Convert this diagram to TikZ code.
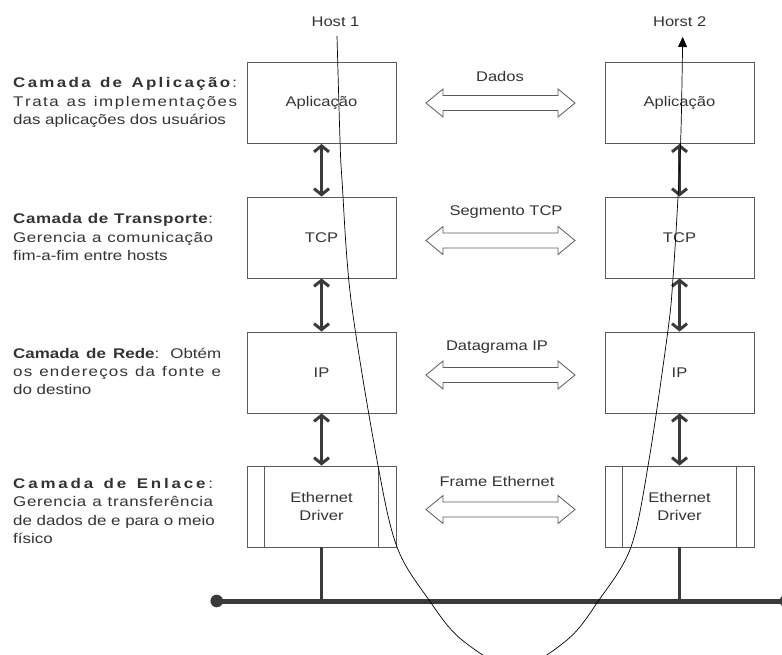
\documentclass[tikz,border=0pt]{standalone}
\usepackage{fontspec}
\setmainfont{Liberation Sans}[FakeStretch=1.18]
\newfontfamily\lfont{Liberation Sans}[FakeStretch=1.21]
\usetikzlibrary{arrows.meta}
\definecolor{txt}{HTML}{333333}
\definecolor{ln}{HTML}{3A3A3A}
\definecolor{bx}{HTML}{5A5A5A}
\newcommand\LSstart{\hskip 0pt plus -1fil\relax}
\newcommand\LS[1]{\LSx#1\relax}
\def\LSx#1{\ifx\relax#1\else\hfil#1\expandafter\LSx\fi}
\tikzset{
  lt/.style={anchor=base west, inner sep=0pt, font=\lfont\fontsize{14}{18}\selectfont, text=txt},
  ct/.style={inner sep=0pt, font=\fontsize{14}{18}\selectfont, text=txt, align=center},
  box/.style={draw=bx, line width=0.9pt, minimum width=149pt, minimum height=81pt, inner sep=0pt,
              font=\fontsize{14}{18}\selectfont, text=txt, align=center},
  varrow/.style={draw=ln, line width=3pt,
     {Straight Barb[length=6pt,width=15pt]}-{Straight Barb[length=6pt,width=15pt]}},
  hollow/.style={draw=bx, line width=0.8pt},
  drop/.style={draw=ln, line width=3pt},
  bus/.style={draw=ln, line width=5pt},
  flow/.style={draw=black, line width=0.7pt, -{Triangle[length=10pt,width=9pt]}}
}
\newcommand\hollowarrow[1]{%
  \draw[hollow, shift={(#1)}] (-74.5,0) -- ++(17,-14) -- ++(0,6.5) -- ++(115,0) -- ++(0,-6.5)
    -- ++(17,14) -- ++(-17,14) -- ++(0,-6.5) -- ++(-115,0) -- ++(0,6.5) -- cycle;}
\begin{document}
\begin{tikzpicture}[x=1pt,y=-1pt]
\useasboundingbox (0,0) rectangle (782,655);

% host labels
\node[ct] (h1) at (335.5,22) {Host 1};
\node[ct] (h2) at (679.7,22) {Horst 2};

% left side boxes
\node[box] (a1) at (321.5,103) {Aplicação};
\node[box] (t1) at (321.5,237.5) {TCP};
\node[box] (i1) at (321.5,372.5) {IP};
\node[box] (e1) at (321.5,506.5) {Ethernet\\Driver};
% right side boxes
\node[box] (a2) at (679.5,103) {Aplicação};
\node[box] (t2) at (679.5,237.5) {TCP};
\node[box] (i2) at (679.5,372.5) {IP};
\node[box] (e2) at (679.5,506.5) {Ethernet\\Driver};

% inner lines of ethernet boxes
\foreach \b in {e1,e2}{
  \draw[bx, line width=0.9pt] ([xshift=18pt]\b.north west) -- ([xshift=18pt]\b.south west);
  \draw[bx, line width=0.9pt] ([xshift=-18pt]\b.north east) -- ([xshift=-18pt]\b.south east);
}

% vertical arrows
\draw[varrow] (a1.south) -- (t1.north);
\draw[varrow] (t1.south) -- (i1.north);
\draw[varrow] (i1.south) -- (e1.north);
\draw[varrow] (a2.south) -- (t2.north);
\draw[varrow] (t2.south) -- (i2.north);
\draw[varrow] (i2.south) -- (e2.north);

% horizontal hollow arrows and labels
\coordinate (d1) at (500.5,103);
\coordinate (d2) at (500.5,240.5);
\coordinate (d3) at (500.5,375);
\coordinate (d4) at (500.5,509.5);
\hollowarrow{d1}
\hollowarrow{d2}
\hollowarrow{d3}
\hollowarrow{d4}
\node[ct] (ld1) at (500,76) {Dados};
\node[ct] (ld2) at (506,212) {Segmento TCP};
\node[ct] (ld3) at (497,347) {Datagrama IP};
\node[ct] (ld4) at (497,481) {Frame Ethernet};

% bus
\coordinate (busL) at (216.7,601);
\coordinate (busR) at (786,601);
\draw[bus] (busL) -- (busR);
\fill[ln] (busL) circle (6.3);
\fill[ln] (busR) circle (6.3);
\draw[drop] (e1.south) -- (e1.south |- busL);
\draw[drop] (e2.south) -- (e2.south |- busL);

% flow curve
\draw[flow] plot[smooth, tension=0.55] coordinates {
  (337,36) (340,140) (342,180) (351,300) (377,460) (397,547) (429,600) (462,640)
  (515,668) (567,640) (599,600) (631,547) (649,460) (668,330) (673,278) (678,197)
  (681,130) (682.7,37)};

% left descriptions
\node[lt] (la1) at (13,88) {\makebox[224pt][s]{\LSstart\textbf{\LS{Camada}\hfil\ \LS{de}\hfil\ \LS{Aplicação}}\LS{:}}};
\node[lt] (la2) at (13,106.5) {\makebox[224pt][s]{\LSstart\LS{Trata}\hfil\ \LS{as}\hfil\ \LS{implementações}}};
\node[lt] (la3) at (13,124.5) {das aplicações dos usuários};

\node[lt] (lt1) at (13,224) {\makebox[200pt][s]{\LSstart\textbf{\LS{Camada}\hfil\ \LS{de}\hfil\ \LS{Transporte}}\LS{:}}};
\node[lt] (lt2) at (13,242.3) {\makebox[200pt][s]{\LSstart\LS{Gerencia}\hfil\ \LS{a}\hfil\ \LS{comunicação}}};
\node[lt] (lt3) at (13,260.3) {fim-a-fim entre hosts};

\node[lt] (lr1) at (13,358.3) {\makebox[208pt][s]{\textbf{Camada de Rede}: Obtém}};
\node[lt] (lr2) at (13,376.7) {\makebox[208pt][s]{\LSstart\LS{os}\hfil\ \LS{endereços}\hfil\ \LS{da}\hfil\ \LS{fonte}\hfil\ \LS{e}}};
\node[lt] (lr3) at (13,394.5) {do destino};

\node[lt] (le1) at (13,488.3) {\makebox[200pt][s]{\LSstart\textbf{\LS{Camada}\hfil\ \LS{de}\hfil\ \LS{Enlace}}\LS{:}}};
\node[lt] (le2) at (13,506.7) {\makebox[200pt][s]{\LSstart\LS{Gerencia}\hfil\ \LS{a}\hfil\ \LS{transferência}}};
\node[lt] (le3) at (13,525) {de dados de e para o meio};
\node[lt] (le4) at (13,543.3) {físico};
\end{tikzpicture}
\end{document}
